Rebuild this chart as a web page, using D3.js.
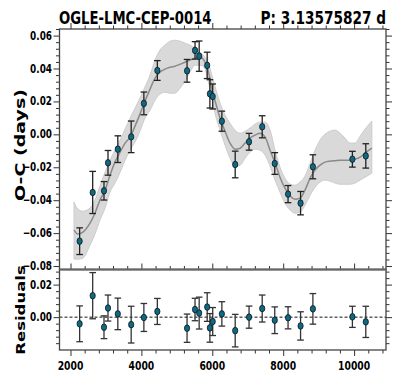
<!DOCTYPE html>
<html><head><meta charset="utf-8">
<script src="https://cdn.jsdelivr.net/npm/d3@7"></script>
<style>body{margin:0;background:#fff} svg{display:block}</style>
</head><body>
<script>
// ---------- data ----------
const starName = "OGLE-LMC-CEP-0014";
const periodText = "P: 3.13575827 d";
const yLabelTop = "O-C (days)";
const yLabelRes = "Residuals";

const obsX   = [2258, 2626, 2945, 3058, 3335, 3712, 4070, 4450, 5288, 5513, 5630, 5856, 5932, 6012, 6270, 6646, 7037, 7408, 7762, 8137, 8490, 8838, 9952, 10330];
const obsOC  = [-0.0649, -0.0353, -0.0343, -0.0173, -0.0090, -0.0015, 0.0188, 0.0388, 0.0386, 0.0510, 0.0475, 0.0419, 0.0246, 0.0230, 0.0080, -0.0183, -0.0045, 0.0046, -0.0177, -0.0363, -0.0418, -0.0197, -0.0151, -0.0131];
const obsErr = [0.0081, 0.0128, 0.0056, 0.0075, 0.0081, 0.0096, 0.0069, 0.0060, 0.0069, 0.0053, 0.0092, 0.0080, 0.0086, 0.0076, 0.0061, 0.0081, 0.0051, 0.0067, 0.0066, 0.0052, 0.0071, 0.0073, 0.0048, 0.0074];
const resid    = [-0.0041, 0.0132, -0.0062, 0.0056, 0.0020, -0.0046, -0.0002, 0.0035, -0.0068, 0.0047, 0.0025, 0.0062, -0.0066, -0.0027, 0.0020, -0.0083, 0.0000, 0.0053, -0.0019, -0.0004, -0.0054, 0.0051, 0.0002, -0.0029];
const residErr = [0.0110, 0.0142, 0.0070, 0.0080, 0.0097, 0.0113, 0.0086, 0.0080, 0.0087, 0.0069, 0.0098, 0.0088, 0.0088, 0.0086, 0.0075, 0.0100, 0.0068, 0.0083, 0.0082, 0.0068, 0.0087, 0.0094, 0.0065, 0.0096];

const modelX = [2100,2210,2350,2550,2690,2830,2975,3115,3255,3400,3540,3680,3820,3960,4100,4245,4385,4525,4665,4810,4950,5090,5230,5370,5515,5655,5765,5880,5995,6105,6220,6360,6500,6640,6785,6925,7065,7205,7345,7490,7630,7770,7910,8050,8195,8335,8475,8615,8760,8900,9040,9180,9320,9465,9605,9745,9885,10025,10170,10310,10500];
const modelMean = [-0.0582,-0.0606,-0.0594,-0.0540,-0.0479,-0.0400,-0.0339,-0.0248,-0.0169,-0.0108,-0.0053,-0.0017,0.0050,0.0123,0.0202,0.0275,0.0341,0.0378,0.0396,0.0408,0.0414,0.0426,0.0438,0.0451,0.0463,0.0469,0.0451,0.0390,0.0269,0.0183,0.0098,0.0019,-0.0053,-0.0090,-0.0084,-0.0053,-0.0023,-0.0005,0.0007,-0.0017,-0.0096,-0.0175,-0.0260,-0.0327,-0.0375,-0.0394,-0.0388,-0.0339,-0.0266,-0.0217,-0.0187,-0.0169,-0.0163,-0.0160,-0.0157,-0.0157,-0.0157,-0.0151,-0.0139,-0.0114,-0.0084];
const modelUpper = [-0.0412,-0.0454,-0.0467,-0.0448,-0.0400,-0.0315,-0.0230,-0.0157,-0.0096,-0.0035,0.0032,0.0098,0.0159,0.0220,0.0287,0.0360,0.0451,0.0512,0.0542,0.0566,0.0572,0.0566,0.0554,0.0542,0.0524,0.0499,0.0475,0.0439,0.0354,0.0269,0.0190,0.0117,0.0068,0.0025,0.0007,0.0019,0.0038,0.0062,0.0074,0.0074,0.0026,-0.0096,-0.0199,-0.0266,-0.0303,-0.0309,-0.0290,-0.0254,-0.0175,-0.0096,-0.0035,0.0001,0.0019,0.0026,0.0007,-0.0023,-0.0053,-0.0053,-0.0011,0.0032,0.0080];
const modelLower = [-0.0758,-0.0758,-0.0752,-0.0673,-0.0606,-0.0521,-0.0448,-0.0351,-0.0296,-0.0230,-0.0157,-0.0096,-0.0047,0.0019,0.0098,0.0147,0.0208,0.0244,0.0256,0.0250,0.0250,0.0281,0.0323,0.0378,0.0420,0.0420,0.0408,0.0329,0.0208,0.0104,0.0026,-0.0066,-0.0145,-0.0193,-0.0187,-0.0145,-0.0108,-0.0090,-0.0096,-0.0126,-0.0193,-0.0278,-0.0351,-0.0418,-0.0460,-0.0479,-0.0473,-0.0430,-0.0369,-0.0321,-0.0290,-0.0278,-0.0284,-0.0296,-0.0303,-0.0303,-0.0303,-0.0296,-0.0278,-0.0260,-0.0236];

const xTicks = [2000, 4000, 6000, 8000, 10000];
const yTicksTop = [-0.08, -0.06, -0.04, -0.02, 0.00, 0.02, 0.04, 0.06];
const yTicksRes = [0.00, 0.02];

// ---------- layout ----------
const W = 399, H = 382;
const L = 59.5, R = 386, T1 = 29, B1 = 269.5, T2 = 269.5, B2 = 350;
const SX = 0.74; // horizontal squeeze of text
const FONT = "DejaVu Sans";

const svg = d3.select("body").append("svg").attr("width", W).attr("height", H);

const x = d3.scaleLinear().domain([1690, 10900]).range([L, R]);
const y1 = d3.scaleLinear().domain([-0.0821, 0.0640]).range([B1, T1]);
const y2 = d3.scaleLinear().domain([-0.0202, 0.0293]).range([B2, T2]);

const idx = d3.range(obsX.length);
const midx = d3.range(modelX.length);

// ---------- top panel ----------
const gTop = svg.append("g");
gTop.append("path")
  .attr("d", d3.area().x(i => x(modelX[i])).y0(i => y1(modelLower[i])).y1(i => y1(modelUpper[i])).curve(d3.curveMonotoneX)(midx))
  .attr("fill", "#d9d9d9").attr("stroke", "#cccccc").attr("stroke-width", 1);
gTop.append("path")
  .attr("d", d3.line().x(i => x(modelX[i])).y(i => y1(modelMean[i])).curve(d3.curveMonotoneX)(midx))
  .attr("fill", "none").attr("stroke", "#8a8a8a").attr("stroke-width", 1.5);

function errorBars(g, ys, vals, errs, color) {
  const cap = 3.3;
  const eb = g.append("g").attr("stroke", color).attr("stroke-width", 1.3);
  idx.forEach(i => {
    const cx = x(obsX[i]), yt = ys(vals[i] + errs[i]), yb = ys(vals[i] - errs[i]);
    eb.append("line").attr("x1", cx).attr("x2", cx).attr("y1", yt).attr("y2", yb);
    eb.append("line").attr("x1", cx - cap).attr("x2", cx + cap).attr("y1", yt).attr("y2", yt);
    eb.append("line").attr("x1", cx - cap).attr("x2", cx + cap).attr("y1", yb).attr("y2", yb);
  });
  g.append("g").selectAll("ellipse").data(idx).join("ellipse")
    .attr("cx", i => x(obsX[i])).attr("cy", i => ys(vals[i]))
    .attr("rx", 2.6).attr("ry", 3.3)
    .attr("fill", "#0b6a86").attr("stroke", "#111").attr("stroke-width", 0.8);
}
errorBars(gTop, y1, obsOC, obsErr, "#222");

// ---------- residual panel ----------
const gRes = svg.append("g");
gRes.append("line").attr("x1", L).attr("x2", R).attr("y1", y2(0)).attr("y2", y2(0))
  .attr("stroke", "#111").attr("stroke-width", 1).attr("stroke-dasharray", "3,2");
errorBars(gRes, y2, resid, residErr, "#333");

// ---------- axes / ticks ----------
const xMinor = d3.range(1600, 10900, 400).filter(v => v >= 1690 && v <= 10900 && v % 2000 !== 0);
const yMinorTop = d3.range(-0.084, 0.0641, 0.004).map(v => +v.toFixed(3)).filter(v => v >= -0.0821 && v <= 0.064 && Math.abs(Math.round(v * 50) - v * 50) > 1e-6);
const yMinorRes = d3.range(-0.020, 0.0293, 0.004).map(v => +v.toFixed(3)).filter(v => v >= -0.0202 && v <= 0.0293 && Math.abs(Math.round(v * 50) - v * 50) > 1e-6);

const tickColor = "#333";
function ticks(axisFn, scale, vals, size, transform) {
  const g = svg.append("g").attr("transform", transform)
    .call(axisFn(scale).tickValues(vals).tickSize(size).tickSizeOuter(0).tickFormat(""));
  g.select(".domain").remove();
  g.selectAll("line").attr("stroke", tickColor).attr("stroke-width", 1);
  return g;
}
// top panel
ticks(d3.axisLeft, y1, yTicksTop, 6, `translate(${L},0)`);
ticks(d3.axisLeft, y1, yMinorTop, 3.5, `translate(${L},0)`);
ticks(d3.axisRight, y1, yTicksTop, 6, `translate(${R},0)`);
ticks(d3.axisRight, y1, yMinorTop, 3.5, `translate(${R},0)`);
ticks(d3.axisTop, x, xTicks, 6, `translate(0,${T1})`);
ticks(d3.axisTop, x, xMinor, 3.5, `translate(0,${T1})`);
// residual panel
ticks(d3.axisTop, x, xTicks, 6, `translate(0,${T2})`);
ticks(d3.axisTop, x, xMinor, 3.5, `translate(0,${T2})`);
ticks(d3.axisBottom, x, xTicks, 6, `translate(0,${B2})`);
ticks(d3.axisBottom, x, xMinor, 3.5, `translate(0,${B2})`);
ticks(d3.axisLeft, y2, yTicksRes, 6, `translate(${L},0)`);
ticks(d3.axisLeft, y2, yMinorRes, 3.5, `translate(${L},0)`);
ticks(d3.axisRight, y2, yTicksRes, 6, `translate(${R},0)`);
ticks(d3.axisRight, y2, yMinorRes, 3.5, `translate(${R},0)`);

// frames
svg.append("rect").attr("x", L).attr("y", T1).attr("width", R - L).attr("height", B1 - T1)
  .attr("fill", "none").attr("stroke", "#444").attr("stroke-width", 1.3);
svg.append("rect").attr("x", L).attr("y", T2).attr("width", R - L).attr("height", B2 - T2)
  .attr("fill", "none").attr("stroke", "#444").attr("stroke-width", 1.3);
svg.append("line").attr("x1", L).attr("x2", R).attr("y1", B1).attr("y2", B1)
  .attr("stroke", "#666").attr("stroke-width", 2);

// ---------- text ----------
function label(txt, px, py, size, anchor, rot, sx) {
  const s = sx || SX;
  const t = svg.append("text")
    .attr("font-family", FONT).attr("font-weight", "bold").attr("font-size", size)
    .attr("text-anchor", anchor).attr("fill", "#000").text(txt);
  if (rot) t.attr("transform", `translate(${px},${py}) rotate(-90) scale(1,${s})`);
  else t.attr("transform", `translate(${px},${py}) scale(${s},1)`);
  return t;
}
const fmt = d3.format(".2f");
yTicksTop.forEach(v => label(fmt(v), 52, y1(v) + 4, 12, "end"));
yTicksRes.forEach(v => label(fmt(v), 52, y2(v) + 4, 12, "end"));
xTicks.forEach(v => label(String(v), x(v), 370, 12.5, "middle"));

label(starName, 59, 24, 18, "start", false, 0.735);
label(periodText, 386, 24, 18, "end", false, 0.76);

label(yLabelTop, 25, 145, 19, "middle", true);
label(yLabelRes, 25, 310, 16.5, "middle", true);
</script>
</body></html>
